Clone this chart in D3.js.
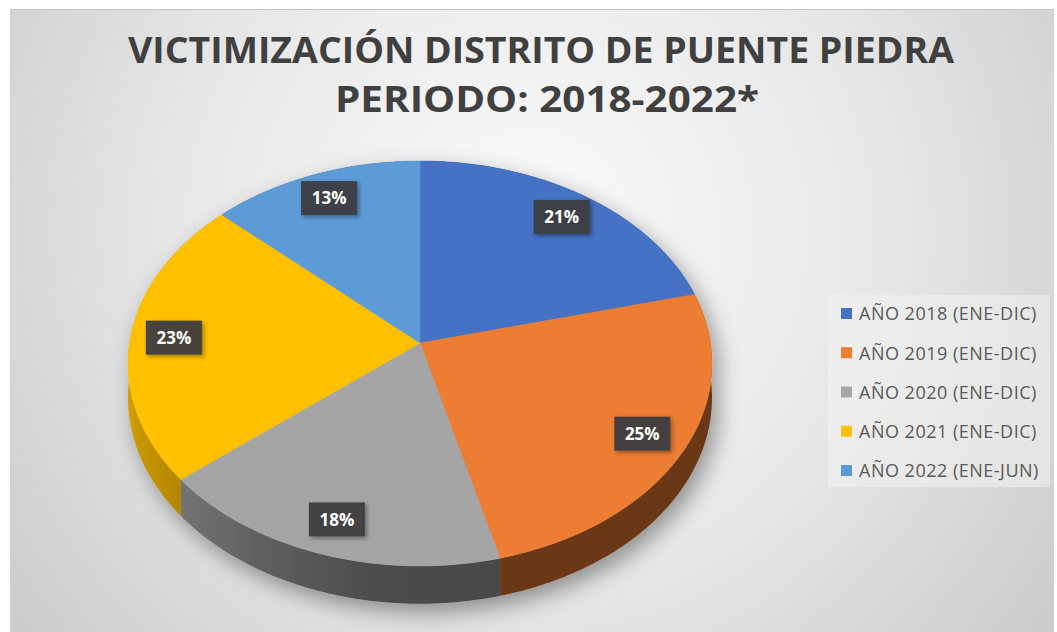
<!DOCTYPE html>
<html>
<head>
<meta charset="utf-8">
<script src="https://cdn.jsdelivr.net/npm/d3@7"></script>
<style>
  body { margin: 0; background: #fff; }
  svg { display: block; }
</style>
</head>
<body>
<div id="chart"></div>
<script>
const categories = ["AÑO 2018 (ENE-DIC)", "AÑO 2019 (ENE-DIC)", "AÑO 2020 (ENE-DIC)", "AÑO 2021 (ENE-DIC)", "AÑO 2022 (ENE-JUN)"];
const values = [21, 25, 18, 23, 13];
const colors = ["#4472C4", "#ED7D31", "#A5A5A5", "#FFC000", "#5B9BD5"];
const titleLines = ["VICTIMIZACIÓN DISTRITO DE PUENTE PIEDRA", "PERIODO: 2018-2022*"];

const width = 1057,
  height = 632;

const svg = d3.select("#chart").append("svg").attr("width", width).attr("height", height);
const defs = svg.append("defs");

// background gradient of the chart area
const bg = defs
  .append("radialGradient")
  .attr("id", "bg")
  .attr("gradientUnits", "userSpaceOnUse")
  .attr("cx", 530)
  .attr("cy", 230)
  .attr("r", 640);
bg.append("stop").attr("offset", 0).attr("stop-color", "#fbfbfb");
bg.append("stop").attr("offset", 0.55).attr("stop-color", "#e7e7e7");
bg.append("stop").attr("offset", 1).attr("stop-color", "#cdcdcd");

const pieShadow = defs.append("filter").attr("id", "pieShadow").attr("x", "-20%").attr("y", "-20%").attr("width", "140%").attr("height", "140%");
pieShadow.append("feDropShadow").attr("dx", 6).attr("dy", 9).attr("stdDeviation", 11).attr("flood-color", "#000").attr("flood-opacity", 0.38);

const boxShadow = defs.append("filter").attr("id", "boxShadow").attr("x", "-30%").attr("y", "-30%").attr("width", "160%").attr("height", "160%");
boxShadow.append("feDropShadow").attr("dx", 2).attr("dy", 2).attr("stdDeviation", 2).attr("flood-color", "#000").attr("flood-opacity", 0.4);

svg.append("rect").attr("x", 10).attr("y", 9).attr("width", 1044).attr("height", 623).attr("fill", "url(#bg)");
svg.append("line").attr("x1", 10).attr("x2", 1054).attr("y1", 9.5).attr("y2", 9.5).attr("stroke", "#c4c4c4");
svg.append("line").attr("x1", 10.5).attr("x2", 10.5).attr("y1", 9).attr("y2", 632).attr("stroke", "#d0d0d0");

// title, squeezed to the width of the narrow original font
const titleX = [541, 547],
  titleY = [63, 112],
  titleW = [826, 424];
svg
  .selectAll("text.title")
  .data(titleLines)
  .join("text")
  .attr("class", "title")
  .attr("x", (d, i) => titleX[i])
  .attr("y", (d, i) => titleY[i])
  .attr("text-anchor", "middle")
  .attr("textLength", (d, i) => titleW[i])
  .attr("lengthAdjust", "spacingAndGlyphs")
  .attr("font-family", "Open Sans, sans-serif")
  .attr("font-weight", 700)
  .attr("font-size", 36)
  .attr("fill", "#404040")
  .text(d => d);

// tilted pie: a circle seen in perspective, front bigger than back
const cx = 420,
  cy = 343,
  A = 290.5,
  B = 200.4,
  K = 0.101,
  depth = 34;

function proj(phi, r, dz) {
  const u = r * Math.sin(phi),
    v = -r * Math.cos(phi);
  const s = 1 / (1 - K * v);
  return [cx + A * u * s, cy + B * v * s + dz * s];
}

// side darker on the right/front, lighter towards the lit left
function shade(color, phi) {
  const u = Math.sin(phi);
  const f = 0.45 + 0.37 * Math.pow(Math.max(0, -u), 1.5);
  const c = d3.rgb(color);
  return d3.rgb(c.r * f, c.g * f, c.b * f).formatHex();
}

const pie = d3.pie().sort(null).value(d => d);
const arcs = pie(values);
const line = d3.line();
const step = Math.PI / 180;

function arcPoints(a0, a1, r, dz) {
  const n = Math.max(2, Math.ceil(Math.abs(a1 - a0) / step));
  return d3.range(n + 1).map(k => proj(a0 + ((a1 - a0) * k) / n, r, dz));
}

// one horizontal gradient per slice for its side wall (front half, left to right)
const gx0 = 120,
  gx1 = 720;
const frontAngles = d3.range(0, 41).map(k => (275 - (190 * k) / 40) * Math.PI / 180);
arcs.forEach((a, i) => {
  const lg = defs
    .append("linearGradient")
    .attr("id", "side" + i)
    .attr("gradientUnits", "userSpaceOnUse")
    .attr("x1", gx0)
    .attr("x2", gx1)
    .attr("y1", 0)
    .attr("y2", 0);
  lg.selectAll("stop")
    .data(frontAngles)
    .join("stop")
    .attr("offset", phi => Math.min(1, Math.max(0, (proj(phi, 1, 0)[0] - gx0) / (gx1 - gx0))))
    .attr("stop-color", phi => shade(colors[i], phi));
});

const g = svg.append("g").style("filter", "url(#pieShadow)");

// side walls
g.selectAll("path.side")
  .data(arcs)
  .join("path")
  .attr("class", "side")
  .attr("d", a => line([...arcPoints(a.startAngle, a.endAngle, 1, 0), ...arcPoints(a.endAngle, a.startAngle, 1, depth)]) + "Z")
  .attr("fill", (a, i) => `url(#side${i})`);

// top faces
g.selectAll("path.top")
  .data(arcs)
  .join("path")
  .attr("class", "top")
  .attr("d", a => line([[cx, cy], ...arcPoints(a.startAngle, a.endAngle, 1, 0)]) + "Z")
  .attr("fill", (a, i) => colors[i])
  .attr("stroke", (a, i) => colors[i])
  .attr("stroke-width", 0.5);

// data labels
const total = d3.sum(values);
const labels = svg
  .selectAll("g.label")
  .data(arcs)
  .join("g")
  .attr("class", "label")
  .attr("transform", a => {
    const p = proj((a.startAngle + a.endAngle) / 2, 0.85, 0);
    return `translate(${p[0]},${p[1]})`;
  });
labels
  .append("rect")
  .attr("x", -28)
  .attr("y", -17)
  .attr("width", 56)
  .attr("height", 34)
  .attr("fill", "#3d3d3f")
  .attr("opacity", 0.95)
  .style("filter", "url(#boxShadow)");
labels
  .append("text")
  .attr("text-anchor", "middle")
  .attr("dy", "0.36em")
  .attr("font-family", "Open Sans, sans-serif")
  .attr("font-weight", 700)
  .attr("font-size", 17)
  .attr("fill", "#fff")
  .text(a => Math.round((a.data / total) * 100) + "%");

// legend
svg.append("rect").attr("x", 828).attr("y", 295).attr("width", 222).attr("height", 192).attr("fill", "#f2f2f2").attr("opacity", 0.55);
const ly = d3.scalePoint().domain(categories).range([314, 471]);
const legend = svg
  .selectAll("g.legend")
  .data(categories)
  .join("g")
  .attr("class", "legend")
  .attr("transform", d => `translate(841,${ly(d)})`);
legend
  .append("rect")
  .attr("x", 0)
  .attr("y", -6)
  .attr("width", 11)
  .attr("height", 11)
  .attr("fill", (d, i) => colors[i]);
legend
  .append("text")
  .attr("x", 18)
  .attr("dy", "0.36em")
  .attr("font-family", "Open Sans, sans-serif")
  .attr("font-size", 18)
  .attr("letter-spacing", 0.5)
  .attr("fill", "#595959")
  .text(d => d);
</script>
</body>
</html>
